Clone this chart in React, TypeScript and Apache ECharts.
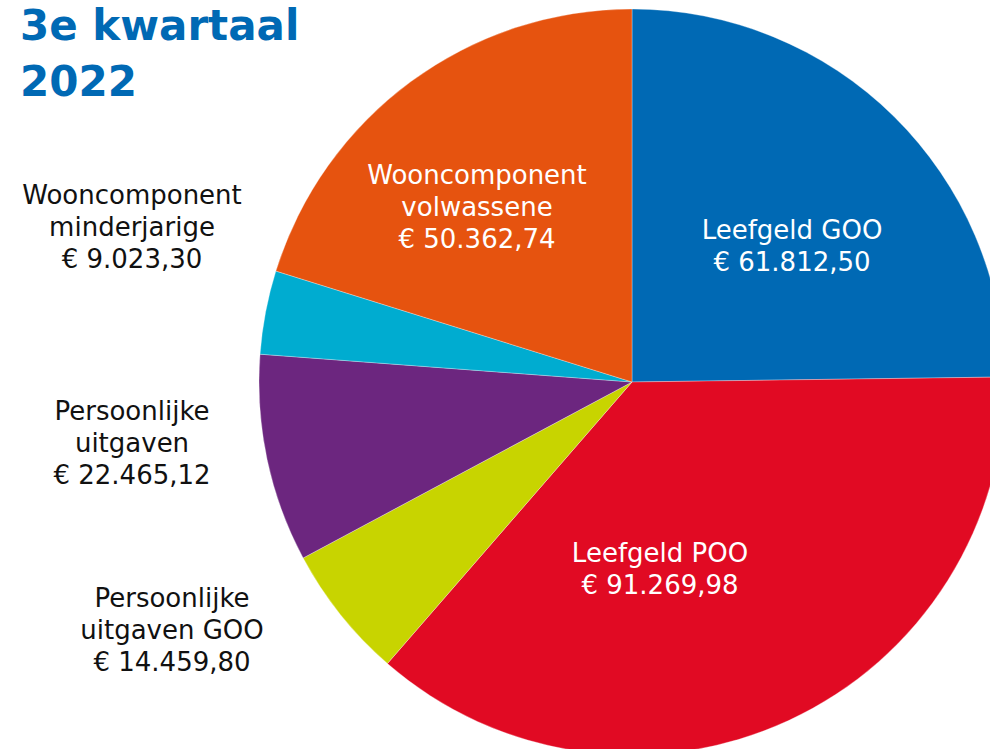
import React, { useEffect, useRef } from "react";
import * as echarts from "echarts";

const categories = [
  "Leefgeld GOO",
  "Leefgeld POO",
  "Persoonlijke\nuitgaven GOO",
  "Persoonlijke\nuitgaven",
  "Wooncomponent\nminderjarige",
  "Wooncomponent\nvolwassene",
];
const values = [61812.5, 91269.98, 14459.8, 22465.12, 9023.3, 50362.74];
const colors = ["#0069B4", "#E10A23", "#C8D400", "#6C267F", "#00ACD0", "#E6530F"];
const insideLabel = [true, true, false, false, false, true];
const titleText = "3e kwartaal\n2022";

// label anchor positions (layout only)
const labelPos = [
  [792, 246],
  [660, 569],
  [172, 630],
  [132, 443],
  [132, 227],
  [477, 207],
];

function fmt(v: number): string {
  const parts = v.toFixed(2).split(".");
  const int = parts[0].replace(/\B(?=(\d{3})+(?!\d))/g, ".");
  return "€ " + int + "," + parts[1];
}

export default function App() {
  const ref = useRef<HTMLDivElement>(null);
  useEffect(() => {
    document.body.style.margin = "0";
    const chart = echarts.init(ref.current!, null, { renderer: "svg" });
    chart.setOption({
      animation: false,
      title: {
        text: titleText,
        left: 15,
        top: -8,
        textStyle: {
          fontFamily: "DejaVu Sans",
          fontWeight: "bold",
          fontSize: 42,
          lineHeight: 56,
          color: "#0069B4",
        },
      },
      series: [
        {
          type: "pie",
          center: [632, 382],
          radius: 373,
          startAngle: 90,
          clockwise: true,
          avoidLabelOverlap: false,
          itemStyle: { borderColor: "rgba(255,255,255,0.5)", borderWidth: 0.6 },
          labelLine: { show: false },
          label: {
            show: true,
            position: "outside",
            fontFamily: "DejaVu Sans",
            fontSize: 26,
            lineHeight: 32,
            align: "center",
            formatter: (p: any) => p.name + "\n" + fmt(p.value),
          },
          labelLayout: (p: any) => ({
            x: labelPos[p.dataIndex][0],
            y: labelPos[p.dataIndex][1],
            align: "center",
            verticalAlign: "middle",
          }),
          emphasis: { disabled: true },
          data: categories.map((c, i) => ({
            name: c,
            value: values[i],
            itemStyle: { color: colors[i] },
            label: { color: insideLabel[i] ? "#ffffff" : "#111111" },
          })),
        },
      ],
    });
    return () => chart.dispose();
  }, []);
  return <div ref={ref} style={{ width: 990, height: 749 }} />;
}
